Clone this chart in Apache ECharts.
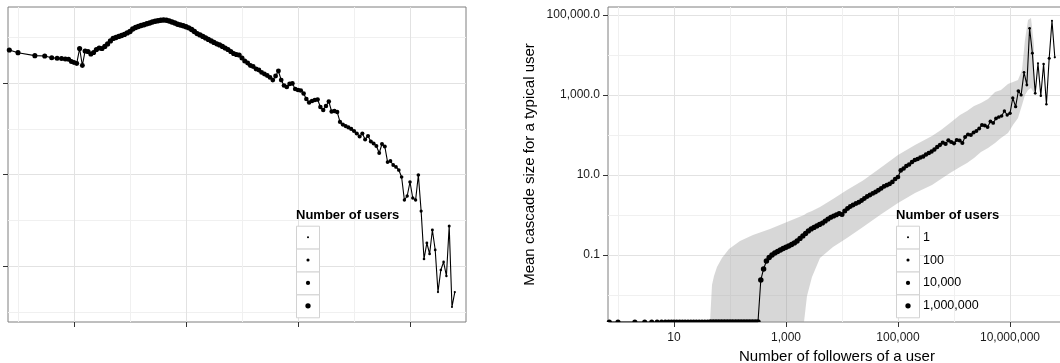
<!DOCTYPE html>
<html>
<head>
<meta charset="utf-8">
<title>Cascade size by number of followers</title>
<script src="https://cdn.jsdelivr.net/npm/echarts@6/dist/echarts.min.js"></script>
<style>
  html, body { margin: 0; padding: 0; background: #fff; }
  #chart { width: 1060px; height: 363px; }
</style>
</head>
<body>
<div id="chart"></div>
<script>
// follower bins: single integers up to 10, then log spaced
const followers = [
  0.7, 1, 2, 3, 4, 5, 6, 7, 8, 9,
  10, 11.2, 12.6, 14.1, 15.8, 17.8, 20, 22.4, 25.1, 28.2, 31.6, 35.5, 39.8, 44.7, 50.1, 56.2, 63.1, 70.8, 79.4, 89.1,
  100, 112, 126, 141, 158, 178, 200, 224, 251, 282, 316, 355, 398, 447, 501, 562, 631, 708, 794, 891,
  1000, 1120, 1260, 1410, 1580, 1780, 2000, 2240, 2510, 2820, 3160, 3550, 3980, 4470, 5010, 5620, 6310, 7080, 7940, 8910,
  1e4, 1.12e4, 1.26e4, 1.41e4, 1.58e4, 1.78e4, 2e4, 2.24e4, 2.51e4, 2.82e4, 3.16e4, 3.55e4, 3.98e4, 4.47e4, 5.01e4, 5.62e4, 6.31e4, 7.08e4, 7.94e4, 8.91e4,
  1e5, 1.12e5, 1.26e5, 1.41e5, 1.58e5, 1.78e5, 2e5, 2.24e5, 2.51e5, 2.82e5, 3.16e5, 3.55e5, 3.98e5, 4.47e5, 5.01e5, 5.62e5, 6.31e5, 7.08e5, 7.94e5, 8.91e5,
  1e6, 1.12e6, 1.26e6, 1.41e6, 1.58e6, 1.78e6, 2e6, 2.24e6, 2.51e6, 2.82e6, 3.16e6, 3.55e6, 3.98e6, 4.47e6, 5.01e6, 5.62e6, 6.31e6, 7.08e6, 7.94e6, 8.91e6,
  1e7, 1.12e7, 1.26e7, 1.41e7, 1.58e7, 1.78e7, 2e7, 2.24e7, 2.51e7, 2.82e7, 3.16e7, 3.55e7, 3.98e7, 4.47e7, 5.01e7, 5.62e7, 6.31e7
];

// number of users in each bin (left panel, also sets the dot size)
const users = [
  5.25e5, 4.59e5, 3.95e5, 3.89e5, 3.57e5, 3.46e5, 3.43e5, 3.34e5, 3.3e5, 2.95e5,
  2.80e5, 2.67e5, 5.66e5, 2.41e5, 5.00e5, 4.88e5, 4.30e5, 4.64e5, 5.39e5, 5.81e5, 5.66e5, 6.27e5, 7.11e5, 8.26e5, 9.37e5, 9.85e5, 1.04e6, 1.09e6, 1.15e6, 1.24e6,
  1.33e6, 1.51e6, 1.63e6, 1.71e6, 1.80e6, 1.87e6, 1.96e6, 2.04e6, 2.15e6, 2.22e6, 2.28e6, 2.34e6, 2.38e6, 2.34e6, 2.26e6, 2.15e6, 2.04e6, 1.92e6, 1.85e6, 1.78e6,
  1.69e6, 1.60e6, 1.47e6, 1.33e6, 1.20e6, 1.12e6, 1.04e6, 9.61e5, 8.91e5, 8.26e5, 7.66e5, 7.18e5, 6.76e5, 6.27e5, 5.81e5, 5.39e5, 4.88e5, 4.41e5, 4.19e5, 4.08e5,
  3.51e5, 3.02e5, 2.73e5, 2.41e5, 2.29e5, 2.02e5, 1.92e5, 1.70e5, 1.57e5, 1.46e5, 1.32e5, 1.16e5, 1.42e5, 1.83e5, 1.16e5, 8.81e4, 8.18e4, 9.51e4, 9.75e4, 7.40e4,
  7.03e4, 6.86e4, 5.90e4, 4.48e4, 3.75e4, 4.05e4, 4.26e4, 4.37e4, 2.99e4, 2.57e4, 3.15e4, 3.94e4, 2.39e4, 2.45e4, 2.33e4, 1.41e4, 1.24e4, 1.15e4, 1.07e4, 9.91e3,
  8.96e3, 7.89e3, 6.79e3, 7.89e3, 5.84e3, 6.97e3, 5.28e3, 4.78e3, 4.21e3, 2.96e3, 4.66e3, 4.11e3, 1.88e3, 1.98e3, 1.62e3, 1.47e3, 1.26e3, 887, 279, 341,
  689, 308, 279, 980, 160, 14.4, 32.1, 18.5, 61.7, 22.6, 2.73, 8.26, 12.4, 6.11, 75.5, 1.29, 2.73
];

// mean cascade size for a typical user (right panel), 0 = no cascade
const meanCascade = [
  0, 0, 0, 0, 0, 0, 0, 0, 0, 0,
  0, 0, 0, 0, 0, 0, 0, 0, 0, 0, 0, 0, 0, 0, 0, 0, 0, 0, 0, 0,
  0, 0, 0, 0, 0, 0, 0, 0, 0, 0, 0, 0.0237, 0.0447, 0.0708, 0.0866, 0.100, 0.112, 0.122, 0.133, 0.145,
  0.156, 0.168, 0.183, 0.200, 0.224, 0.259, 0.299, 0.345, 0.398, 0.447, 0.487, 0.531, 0.579, 0.631, 0.708, 0.794, 0.876, 0.944, 1.01, 1.09,
  1.03, 1.26, 1.45, 1.63, 1.78, 1.94, 2.08, 2.30, 2.59, 2.90, 3.16, 3.45, 3.76, 4.15, 4.60, 5.16, 5.56, 5.96, 6.68, 7.94,
  8.91, 13.0, 14.5, 16.8, 18.3, 21.1, 23.7, 25.1, 27.4, 29.0, 32.6, 35.5, 38.7, 43.4, 50.1, 56.2, 64.2, 59.6, 73.7, 66.8,
  62.0, 75.0, 72.9, 63.1, 89.1, 103, 100, 115, 126, 145, 178, 173, 158, 218, 200, 259, 282, 299, 398, 316,
  349, 841, 510, 1260, 1000, 3690, 1780, 46500, 11000, 1100, 6200, 960, 5960, 585, 8270, 72000, 8760
];

// grey band around the mean (right panel), 0 = below the axis
const bandFollowers = [44, 47.7, 51.8, 58.6, 71.9, 95.9, 151, 257, 518, 1042, 2096, 2371, 2911, 4046, 6902, 12270, 23710, 47730, 1e5,
  2.014e5, 4.046e5, 5.86e5, 8.488e5, 1.28e6, 1.71e6, 2.28e6, 3.03e6, 4.05e6, 5.40e6, 6.90e6, 9.21e6, 1.13e7, 1.39e7, 1.64e7, 1.85e7, 2.10e7, 2.37e7, 2.68e7];
const bandHigh = [0, 0.0178, 0.0299, 0.0501, 0.0841, 0.141, 0.224, 0.316, 0.447, 0.668, 1.0, 1.12, 1.26, 1.58, 2.51, 4.22, 7.29, 14.7, 31.6,
  56.2, 94.4, 133, 200, 316, 398, 531, 631, 794, 1190, 1330, 1880, 2110, 2370, 4220, 23700, 75000, 84100, 17800];
const bandLow = [0, 0, 0, 0, 0, 0, 0, 0, 0, 0, 0, 0.00944, 0.0282, 0.0841, 0.158, 0.266, 0.501, 1.0, 2.0,
  3.55, 5.62, 7.94, 11.2, 15.8, 20.0, 26.6, 37.6, 47.3, 63.1, 84.1, 112, 178, 266, 562, 1000, 1330, 1500, 1120];

const xTicks = [10, 1e3, 1e5, 1e7];
const xMinorTicks = [1, 100, 1e4, 1e6];
const yTicksLeft = [10, 1e3, 1e5];
const yMinorLeft = [1, 100, 1e4, 1e6];
const yTicksRight = [0.1, 10, 1e3, 1e5];
const yMinorRight = [0.01, 1, 100, 1e4];
const legendUsers = [1, 100, 1e4, 1e6];
const legendLabels = ['1', '100', '10,000', '1,000,000'];

const X_MIN = 0.663, X_MAX = 1e8;
const YL_MIN = 0.605, YL_MAX = 4.56e6;
const YR_MIN = 0.00211, YR_MAX = 1.585e5;

const FONT = '"Liberation Sans", Arial, Helvetica, sans-serif';
const dotSize = n => 2 + 0.55 * Math.log10(Math.max(n, 1));
// points sitting on the panel edge are cut in half, as in the original
const HALF_DOT = 'path://M0 10 A10 10 0 0 1 20 10 Z';

function majorAxis(gridIndex, min, max, ticks, pos, labels, fmt) {
  return {
    type: 'log', gridIndex, min, max, position: pos,
    axisLine: { show: false },
    axisTick: { show: true, customValues: ticks, length: 5, lineStyle: { color: '#333', width: 1 } },
    axisLabel: { show: labels, customValues: ticks, margin: pos === 'bottom' ? 10 : 8, color: '#1a1a1a', fontSize: 12, fontFamily: FONT, formatter: fmt },
    splitLine: { show: true, lineStyle: { color: '#e2e2e2', width: 1 } }
  };
}
function minorAxis(gridIndex, min, max, ticks, pos) {
  return {
    type: 'log', gridIndex, min, max, position: pos,
    axisLine: { show: false },
    axisTick: { show: false, customValues: ticks },
    axisLabel: { show: false, customValues: ticks },
    splitLine: { show: true, lineStyle: { color: '#f0f0f0', width: 1 } }
  };
}
const fmtX = v => Number(v).toLocaleString('en-US', { maximumFractionDigits: 0 });
const fmtY = v => Number(v).toLocaleString('en-US', { minimumFractionDigits: 1, maximumFractionDigits: 1 });

function legend(left, withLabels) {
  const top = 225.7, row = 22.9, out = [];
  out.push({ type: 'text', left: left, top: top - 17, z: 100,
    style: { text: 'Number of users', font: 'bold 13px ' + FONT, fill: '#000' } });
  legendUsers.forEach((n, i) => {
    const cy = top + row * i + row / 2;
    out.push({ type: 'rect', z: 100, shape: { x: left + 0.5, y: top + row * i + 0.5, width: 23, height: row },
      style: { fill: '#fff', stroke: '#d2d2d2', lineWidth: 1 } });
    out.push({ type: 'circle', z: 101, shape: { cx: left + 12, cy: cy, r: dotSize(n) / 2 }, style: { fill: '#000' } });
    if (withLabels) {
      out.push({ type: 'text', z: 101, x: left + 27, y: cy,
        style: { text: legendLabels[i], font: '12.5px ' + FONT, fill: '#000', textVerticalAlign: 'middle' } });
    }
  });
  return out;
}

const meanData = followers.map((f, i) => {
  if (meanCascade[i] > 0) return [f, meanCascade[i], users[i]];
  const d = dotSize(users[i]);
  return { value: [f, YR_MIN, users[i]], symbol: HALF_DOT, symbolSize: [d, d / 2], symbolOffset: [0, -d / 4] };
});

const chart = echarts.init(document.getElementById('chart'), null, { renderer: 'canvas' });

const xLeft = majorAxis(0, X_MIN, X_MAX, xTicks, 'bottom', false);
const xRight = majorAxis(1, X_MIN, X_MAX, xTicks, 'bottom', true, fmtX);
xRight.name = 'Number of followers of a user';
xRight.nameLocation = 'middle';
xRight.nameGap = 24;
xRight.nameTextStyle = { fontSize: 15, fontFamily: FONT, color: '#000' };
const yRight = majorAxis(1, YR_MIN, YR_MAX, yTicksRight, 'left', true, fmtY);
yRight.name = 'Mean cascade size for a typical user';
yRight.nameLocation = 'middle';
yRight.nameGap = 71;
yRight.nameTextStyle = { fontSize: 15, fontFamily: FONT, color: '#000' };

const option = {
  animation: false,
  backgroundColor: '#fff',
  grid: [
    { left: 8, top: 7, width: 458, height: 315, outerBoundsMode: 'none', show: true, borderColor: '#7f7f7f', borderWidth: 1, backgroundColor: 'transparent' },
    { left: 608, top: 7, width: 458, height: 315, outerBoundsMode: 'none', show: true, borderColor: '#7f7f7f', borderWidth: 1, backgroundColor: 'transparent' }
  ],
  xAxis: [
    xLeft,
    xRight,
    minorAxis(0, X_MIN, X_MAX, xMinorTicks, 'bottom'),
    minorAxis(1, X_MIN, X_MAX, xMinorTicks, 'bottom')
  ],
  yAxis: [
    majorAxis(0, YL_MIN, YL_MAX, yTicksLeft, 'left', false),
    yRight,
    minorAxis(0, YL_MIN, YL_MAX, yMinorLeft, 'left'),
    minorAxis(1, YR_MIN, YR_MAX, yMinorRight, 'left')
  ],
  series: [
    {
      type: 'line', xAxisIndex: 0, yAxisIndex: 0,
      data: followers.map((f, i) => [f, users[i]]),
      symbol: 'circle', showAllSymbol: true,
      symbolSize: v => dotSize(v[1]),
      lineStyle: { color: '#000', width: 1.1 },
      itemStyle: { color: '#000' },
      z: 3
    },
    {
      type: 'custom', xAxisIndex: 1, yAxisIndex: 1, clip: true, silent: true,
      data: bandFollowers.map((f, i) => [f, Math.max(bandLow[i], YR_MIN), Math.max(bandHigh[i], YR_MIN)]),
      renderItem: (params, api) => {
        if (params.dataIndex !== 0) return null;
        const upper = bandFollowers.map((f, i) => api.coord([f, Math.max(bandHigh[i], YR_MIN)]));
        const lower = bandFollowers.map((f, i) => api.coord([f, Math.max(bandLow[i], YR_MIN)])).reverse();
        return { type: 'polygon', shape: { points: upper.concat(lower) }, style: { fill: 'rgba(150,150,150,0.38)' } };
      },
      z: 2
    },
    {
      type: 'line', xAxisIndex: 1, yAxisIndex: 1,
      data: meanData,
      symbol: 'circle', showAllSymbol: true,
      symbolSize: v => dotSize(v[2]),
      lineStyle: { color: '#000', width: 1.1 },
      itemStyle: { color: '#000' },
      z: 3
    }
  ],
  graphic: legend(296, false).concat(legend(896, true))
};

chart.setOption(option);
</script>
</body>
</html>
